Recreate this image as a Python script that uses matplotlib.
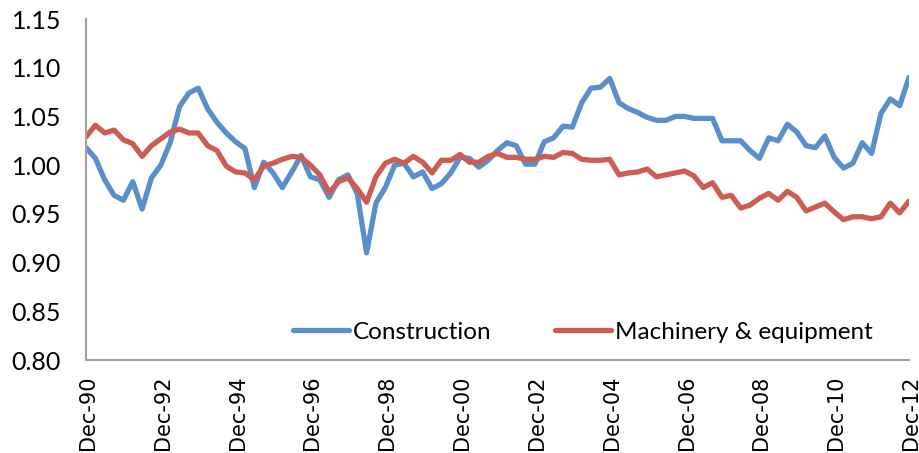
import matplotlib
matplotlib.use("Agg")
import matplotlib.pyplot as plt
import matplotlib.transforms as mtransforms

# Quarterly series, Dec-90 .. Dec-12
construction = [
    1.018, 1.007, 0.985, 0.969, 0.964, 0.983, 0.955, 0.987, 1.000, 1.023,
    1.060, 1.074, 1.079, 1.058, 1.044, 1.033, 1.024, 1.017, 0.977, 1.003,
    0.992, 0.977, 0.993, 1.010, 0.988, 0.985, 0.967, 0.985, 0.990, 0.971,
    0.910, 0.961, 0.977, 1.000, 1.002, 0.988, 0.993, 0.976, 0.981, 0.992,
    1.008, 1.007, 0.998, 1.005, 1.015, 1.023, 1.020, 1.001, 1.001, 1.024,
    1.028, 1.040, 1.039, 1.064, 1.079, 1.080, 1.089, 1.064, 1.058, 1.054,
    1.049, 1.046, 1.046, 1.050, 1.050, 1.048, 1.048, 1.048, 1.025, 1.025,
    1.025, 1.015, 1.007, 1.028, 1.025, 1.042, 1.034, 1.020, 1.018, 1.030,
    1.008, 0.997, 1.002, 1.023, 1.012, 1.053, 1.068, 1.061, 1.090,
]
machinery = [
    1.029, 1.041, 1.033, 1.036, 1.026, 1.022, 1.009, 1.020, 1.027, 1.034,
    1.037, 1.033, 1.033, 1.020, 1.015, 0.999, 0.993, 0.992, 0.985, 0.999,
    1.002, 1.006, 1.009, 1.008, 1.000, 0.990, 0.972, 0.983, 0.987, 0.976,
    0.962, 0.988, 1.002, 1.006, 1.002, 1.009, 1.003, 0.992, 1.005, 1.005,
    1.011, 1.003, 1.003, 1.009, 1.012, 1.008, 1.008, 1.006, 1.006, 1.009,
    1.008, 1.013, 1.012, 1.006, 1.005, 1.005, 1.006, 0.990, 0.992, 0.993,
    0.996, 0.988, 0.990, 0.992, 0.994, 0.989, 0.977, 0.982, 0.967, 0.969,
    0.956, 0.959, 0.966, 0.971, 0.964, 0.973, 0.967, 0.953, 0.957, 0.961,
    0.952, 0.944, 0.947, 0.947, 0.945, 0.947, 0.961, 0.951, 0.963,
]
tick_labels = ["Dec-90", "Dec-92", "Dec-94", "Dec-96", "Dec-98", "Dec-00",
               "Dec-02", "Dec-04", "Dec-06", "Dec-08", "Dec-10", "Dec-12"]
y_ticks = [0.80, 0.85, 0.90, 0.95, 1.00, 1.05, 1.10, 1.15]

blue = "#5B8FC9"
red = "#CD5C55"

fig = plt.figure(figsize=(9.2, 4.53), dpi=100)
ax = fig.add_axes([86 / 920, 93 / 453, 823 / 920, 341 / 453])

x = list(range(len(construction)))
ax.plot(x, construction, color=blue, lw=3.8, solid_joinstyle="round",
        solid_capstyle="round", label="Construction")
ax.plot(x, machinery, color=red, lw=3.8, solid_joinstyle="round",
        solid_capstyle="round", label="Machinery & equipment")

ax.set_xlim(0, len(construction) - 1)
ax.set_ylim(0.80, 1.15)
ax.set_yticks(y_ticks)
ax.set_yticklabels([f"{v:.2f}" for v in y_ticks], fontfamily="Lato", fontsize=18)
ax.set_xticks(list(range(0, len(construction), 8)))
ax.set_xticklabels(tick_labels, rotation=90, fontfamily="DejaVu Sans", fontsize=15)

ax.tick_params(axis="both", length=0)
ax.tick_params(axis="x", pad=11)
ax.tick_params(axis="y", pad=18)
offset = mtransforms.ScaledTranslation(2 / 100, 0, fig.dpi_scale_trans)
for lab in ax.get_xticklabels():
    lab.set_transform(lab.get_transform() + offset)

for s in ["top", "right"]:
    ax.spines[s].set_visible(False)
for s in ["left", "bottom"]:
    ax.spines[s].set_color("#A0A0A0")
    ax.spines[s].set_linewidth(1.5)

leg = ax.legend(loc="lower left", bbox_to_anchor=(0.231, 0.0), ncol=2,
                frameon=False, prop={"family": "Lato", "size": 17.5},
                handlelength=2.3, handletextpad=0.16, columnspacing=2.6,
                borderaxespad=0.3)

fig.savefig("out.png", dpi=100)
